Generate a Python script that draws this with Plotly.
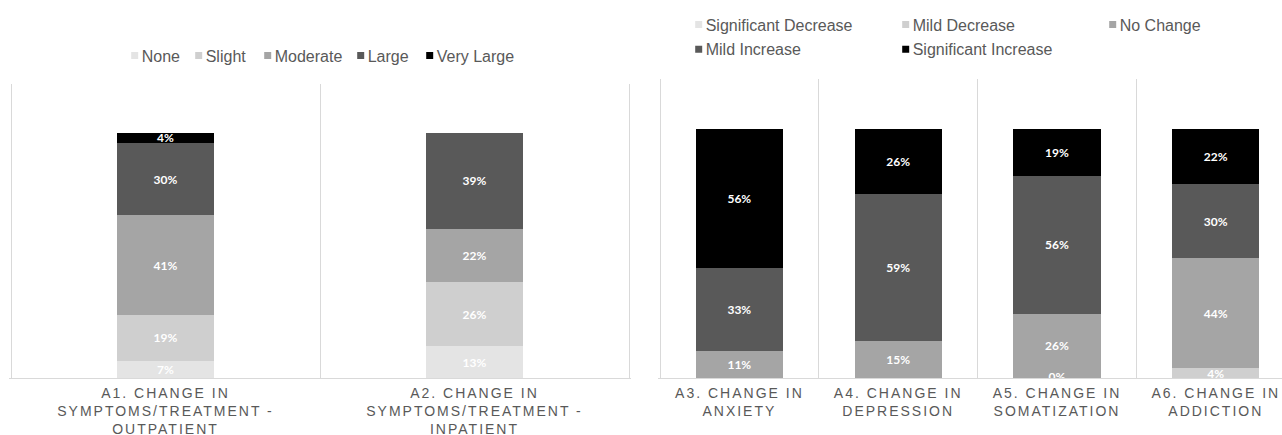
import plotly.graph_objects as go

# ---- Left panel: size of change in symptoms / treatment ----
left_categories = [
    "A1. CHANGE IN<br>SYMPTOMS/TREATMENT -<br>OUTPATIENT",
    "A2. CHANGE IN<br>SYMPTOMS/TREATMENT -<br>INPATIENT",
]
left_names = ["None", "Slight", "Moderate", "Large", "Very Large"]
none_pct = [7, 13]
slight_pct = [19, 26]
moderate_pct = [41, 22]
large_pct = [30, 39]
very_large_pct = [4, None]

# ---- Right panel: direction of change per domain ----
right_categories = [
    "A3. CHANGE IN<br>ANXIETY",
    "A4. CHANGE IN<br>DEPRESSION",
    "A5. CHANGE IN<br>SOMATIZATION",
    "A6. CHANGE IN<br>ADDICTION",
]
right_names = ["Significant Decrease", "Mild Decrease", "No Change",
               "Mild Increase", "Significant Increase"]
sig_decrease_pct = [None, None, None, None]
mild_decrease_pct = [None, None, 0, 4]
no_change_pct = [11, 15, 26, 44]
mild_increase_pct = [33, 59, 56, 30]
sig_increase_pct = [56, 26, 19, 22]

left_values = [none_pct, slight_pct, moderate_pct, large_pct, very_large_pct]
right_values = [sig_decrease_pct, mild_decrease_pct, no_change_pct,
                mild_increase_pct, sig_increase_pct]

GREYS = ["#e4e4e4", "#cfcfcf", "#a5a5a5", "#595959", "#000000"]
TEXT_GREY = "#595959"
RULE_GREY = "#d9d9d9"
FONT = "Liberation Sans"
W, H = 1282, 435

# legend entry widths (px) so the entries sit on the intended spacing
left_entry_widths = [19, 24, 48, 24, 80]
right_entry_widths = [162, 162, 162, 162, 162]
right_legends = ["legend2", "legend2", "legend2", "legend3", "legend3"]

LABEL_FONT = dict(family="Lato", size=12, color="white", weight="bold")

fig = go.Figure()


def add_panel(categories, names, values_list, xa, ya, legends, entry_widths):
    totals = [sum(v[i] or 0 for v in values_list) for i in range(len(categories))]
    running = [0.0] * len(categories)
    zero_x, zero_y, zero_t = [], [], []
    for name, values, color, legend, ew in zip(names, values_list, GREYS,
                                               legends, entry_widths):
        labels = ["" if v is None else f"{v}%" for v in values]
        fig.add_trace(go.Bar(
            x=categories, y=values, name=name, legendgroup=name,
            showlegend=False, xaxis=xa, yaxis=ya,
            marker=dict(color=color, line=dict(width=0)),
            text=labels, textposition="inside", insidetextanchor="middle",
            constraintext="none", textangle=0, textfont=LABEL_FONT,
            hovertemplate="%{x}<br>" + name + ": %{text}<extra></extra>",
        ))
        # zero-height segments still carry their label at the stack base
        for i, v in enumerate(values):
            if v == 0:
                zero_x.append(categories[i])
                zero_y.append(running[i] / totals[i] * 100)
                zero_t.append(f"{v}%")
            if v:
                running[i] += v
        # legend swatch
        fig.add_trace(go.Scatter(
            x=[None], y=[None], mode="markers", name=name, legendgroup=name,
            legend=legend, legendwidth=ew, xaxis=xa, yaxis=ya,
            marker=dict(symbol="square", size=7, color=color, line=dict(width=0)),
            hoverinfo="skip",
        ))
    if zero_x:
        fig.add_trace(go.Scatter(
            x=zero_x, y=zero_y, text=zero_t, mode="text", xaxis=xa, yaxis=ya,
            textposition="middle center", showlegend=False, cliponaxis=True,
            textfont=LABEL_FONT, hoverinfo="skip",
        ))


add_panel(left_categories, left_names, left_values, "x", "y",
          ["legend"] * 5, left_entry_widths)
add_panel(right_categories, right_names, right_values, "x2", "y2",
          right_legends, right_entry_widths)

baseline = 378
axis_common = dict(
    type="category", tickson="boundaries", showgrid=True, gridcolor=RULE_GREY,
    gridwidth=1, showline=True, linecolor=RULE_GREY, linewidth=1,
    ticks="", zeroline=False, ticklabelstandoff=2, automargin=False,
    tickfont=dict(family=FONT, size=14, color=TEXT_GREY),
    fixedrange=True,
)

legend_common = dict(
    orientation="h", xanchor="left", yanchor="middle",
    bgcolor="rgba(0,0,0,0)", borderwidth=0,
    font=dict(family=FONT, size=16, color=TEXT_GREY),
    itemclick="toggleothers",
)

# category slot widths in px; ranges reach 2px past the outer slot edges so
# the outer separators are kept
left_slot, right_slot = 309.0, 158.8

fig.update_layout(
    template="none",
    width=W, height=H, autosize=False,
    margin=dict(l=0, r=0, t=0, b=0, autoexpand=False),
    paper_bgcolor="white", plot_bgcolor="white",
    barmode="stack", barnorm="percent",
    showlegend=True,
    xaxis=dict(domain=[9 / W, 631 / W],
               range=[-0.5 - 2 / left_slot, 1.5 + 2 / left_slot],
               categoryorder="array", categoryarray=left_categories,
               anchor="y", **axis_common),
    yaxis=dict(domain=[(H - baseline) / H, (H - 84) / H], range=[0, 120],
               visible=False, fixedrange=True, anchor="x", automargin=False),
    xaxis2=dict(domain=[658 / W, 1.0],
                range=[-0.5 - 2 / right_slot, -0.5 + (W - 660) / right_slot],
                categoryorder="array", categoryarray=right_categories,
                anchor="y2", **axis_common),
    yaxis2=dict(domain=[(H - baseline) / H, (H - 79) / H], range=[0, 120],
                visible=False, fixedrange=True, anchor="x2", automargin=False),
    legend=dict(x=101.7 / W, y=1 - 55.7 / H, **legend_common),
    legend2=dict(x=665.7 / W, y=1 - 24.5 / H, **legend_common),
    legend3=dict(x=665.7 / W, y=1 - 49.3 / H, **legend_common),
)

# the right panel uses wider bars than the left one
for tr in fig.data:
    if tr.type == "bar":
        tr.width = 0.315 if tr.xaxis == "x" else 0.55

# spaced capitals for the category captions; legend swatches sit close to
# their labels
FINISHING = """
(function () {
  function tidy() {
    document.querySelectorAll('.xtick text, .x2tick text').forEach(function (t) {
      t.style.letterSpacing = '2px';
    });
    document.querySelectorAll('.legendsymbols').forEach(function (g) {
      if (!g.dataset.nudged) {
        var t = g.getAttribute('transform') || '';
        g.setAttribute('transform', (t + ' translate(13,0)').trim());
        g.dataset.nudged = '1';
      }
    });
  }
  tidy();
  var gd = document.getElementById('{plot_id}');
  if (gd && gd.on) { gd.on('plotly_afterplot', tidy); }
  setTimeout(tidy, 0);
})();
"""

fig.write_html("out.html", post_script=FINISHING)
